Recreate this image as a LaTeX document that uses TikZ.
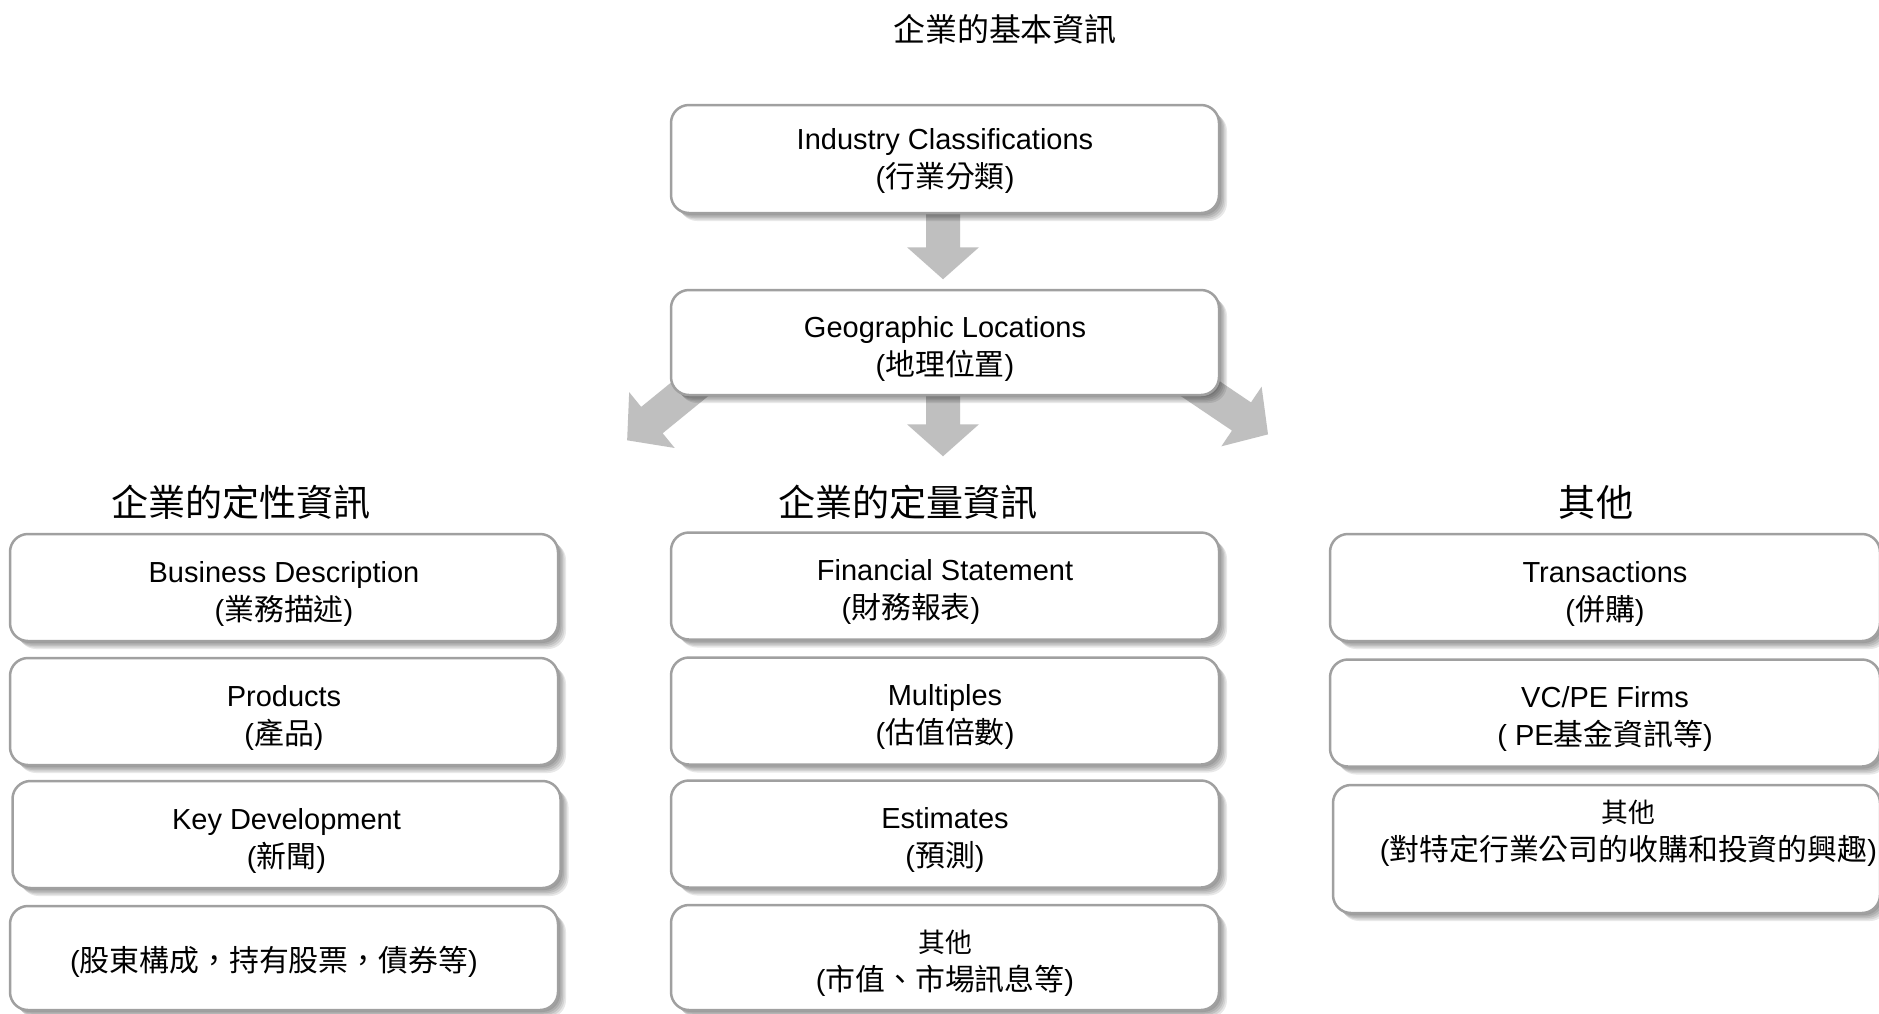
\documentclass[tikz,border=0pt]{standalone}
\usepackage{fontspec}
\setmainfont{Liberation Sans}
\newfontfamily\cjk[Scale=1.03]{Noto Sans CJK TC}
\usetikzlibrary{calc}
\pgfdeclarelayer{bg}
\pgfsetlayers{bg,main}
\definecolor{arrowgray}{HTML}{BFBFBF}
\definecolor{boxborder}{HTML}{A0A0A0}
\newcommand{\zh}[1]{{\cjk #1}}
\newcommand{\zhsmall}[1]{{\cjk\fontsize{26}{38}\selectfont #1}}
\newcommand{\tl}[1][33pt]{\rule{0pt}{#1}}
% block arrow: start coordinate, canvas angle, total length
\newcommand{\blockarr}[3]{\fill[arrowgray, shift={(#1)}, rotate=#2] (0,-17) -- ({#3-32},-17) -- ({#3-32},-36) -- (#3,0) -- ({#3-32},36) -- ({#3-32},17) -- (0,17) -- cycle;}
\begin{document}
\begin{tikzpicture}[x=1pt,y=-1pt,
  softshadow/.style={preaction={fill=black, fill opacity=0.09, transform canvas={shift={(#1pt,-#1pt)}}}},
  box/.style={draw=boxborder, line width=2.5pt, rounded corners=18pt, fill=white,
    minimum width=548pt, minimum height=107pt, inner sep=0pt, align=center,
    font=\fontsize{29}{38}\selectfont,
    softshadow=2, softshadow=3.5, softshadow=5, softshadow=6.5, softshadow=8},
  head/.style={font=\cjk\fontsize{36}{40}\selectfont, inner sep=0pt},
  title/.style={font=\cjk\fontsize{31}{36}\selectfont, inner sep=0pt}]
\begin{pgfonlayer}{bg}
\fill[white] (0,0) rectangle (1879,1013);
\end{pgfonlayer}
\useasboundingbox (0,0) rectangle (1879,1013);

\node[title] (t) at (1005,29) {企業的基本資訊};

\node[box, minimum height=108pt] (ind) at (945,159) {\tl[24pt]Industry Classifications\\(\zh{行業分類})};
\node[box, minimum height=105pt] (geo) at (945,342.5) {\tl[33pt]Geographic Locations\\(\zh{地理位置})};

\node[head] (hq) at (241,502) {企業的定性資訊};
\node[head] (hm) at (908,502) {企業的定量資訊};
\node[head] (ho) at (1596,502) {其他};

% left column
\node[box] (bd) at (284,587.5) {\tl Business Description\\(\zh{業務描述})};
\node[box] (prod) at (284,711.5) {\tl Products\\(\zh{產品})};
\node[box] (kd) at (286.5,834.5) {\tl Key Development\\(\zh{新聞})};
\node[box, minimum height=104pt] (hold) at (284,958) {\tl[32pt](\zh{股東構成，持有股票，債券等})\hspace*{20pt}};

% middle column
\node[box] (fs) at (945,586) {\tl Financial Statement\\(\zh{財務報表})\hspace*{68pt}};
\node[box] (mult) at (945,711) {\tl Multiples\\(\zh{估值倍數})};
\node[box] (est) at (945,834) {\tl Estimates\\(\zh{預測})};
\node[box, minimum height=105pt] (mo) at (945,957.5) {\tl[34pt]\zhsmall{其他}\\(\zh{市值、市場訊息等})};

% right column
\node[box, minimum width=550pt] (trans) at (1605,587.5) {\tl Transactions\\(\zh{併購})};
\node[box, minimum width=550pt] (vc) at (1605,713) {\tl VC/PE Firms\\( PE\zh{基金資訊等})};
\node[box, minimum width=547pt, minimum height=128pt] (ro) at (1606.5,849) {\hspace*{44pt}\tl[34pt]\zhsmall{其他}\\\hspace*{44pt}(\zh{對特定行業公司的收購和投資的興趣})\\\strut};

% block arrows (behind the boxes)
\begin{pgfonlayer}{bg}
\coordinate (a1s) at ($(ind.south)+(-2,-8)$);
\coordinate (a2s) at ($(geo.south)+(-2,-5)$);
\coordinate (a3s) at ($(geo.south west)+(31,-16)$);
\coordinate (a4s) at ($(geo.south east)+(-31,-15)$);
\blockarr{a1s}{-90}{73}
\blockarr{a2s}{-90}{65}
\blockarr{a3s}{219.2}{95}
\blockarr{a4s}{-34}{95}
\end{pgfonlayer}
\end{tikzpicture}
\end{document}
